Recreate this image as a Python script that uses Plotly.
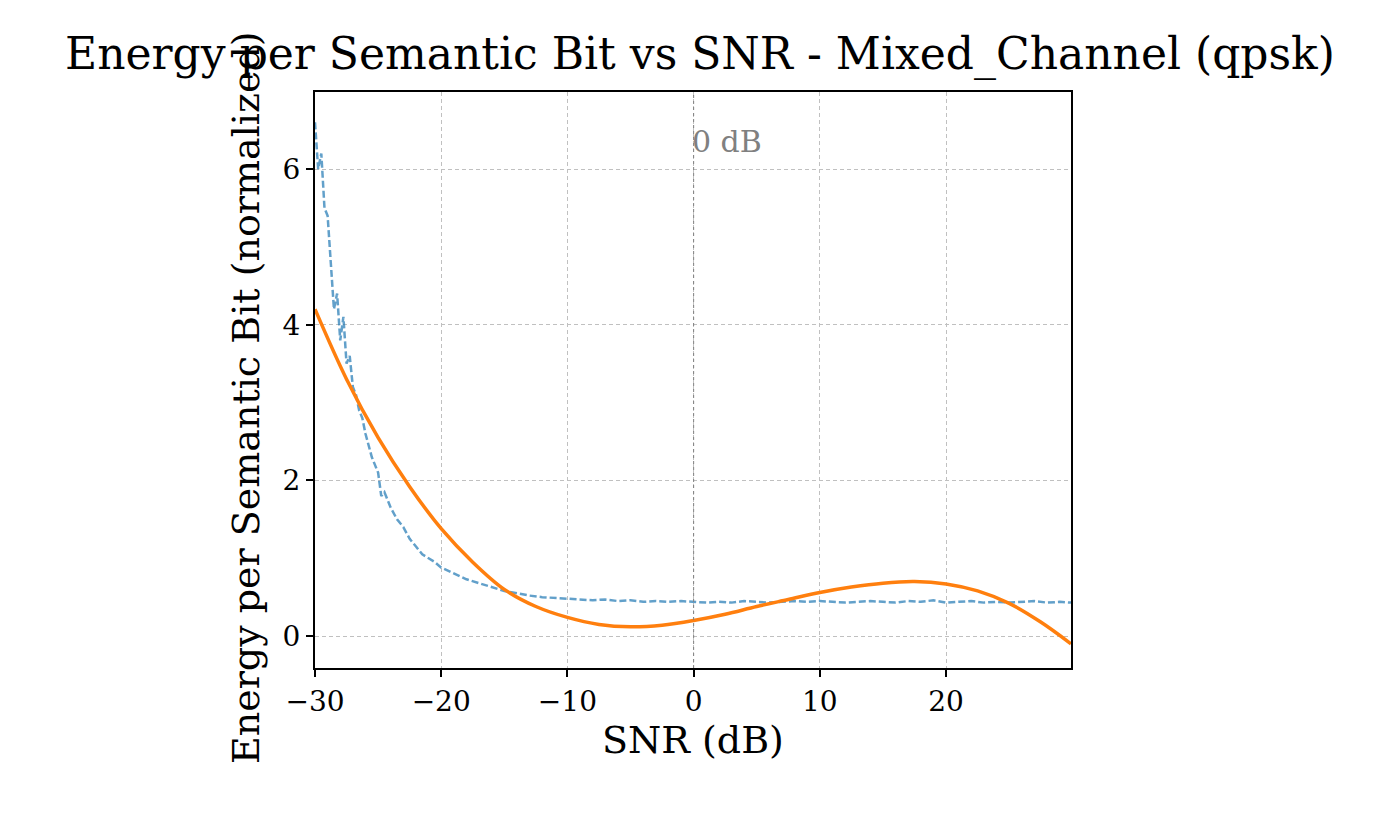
import plotly.graph_objects as go

blue_x = [-30,-29.75,-29.5,-29.25,-29,-28.75,-28.5,-28.25,-28,-27.75,-27.5,-27.25,-27,-26.75,-26.5,-26.25,-26,-25.5,-25,-24.75,-24.5,-24,-23.5,-23,-22.5,-22,-21.5,-21,-20.5,-20,-19,-18,-17,-16,-15,-14,-13,-12,-11,-10,-9,-8,-7,-6,-5,-4,-3,-2,-1,0,1,2,3,4,5,6,7,8,9,10,11,12,13,14,15,16,17,18,19,20,21,22,23,24,25,26,27,28,29,29.9]
blue_y = [6.6,6.0,6.2,5.5,5.4,4.8,4.2,4.4,3.8,4.1,3.5,3.6,3.2,3.1,2.9,2.8,2.6,2.3,2.1,1.8,1.85,1.65,1.5,1.4,1.25,1.15,1.05,1.0,0.95,0.88,0.8,0.73,0.68,0.63,0.58,0.55,0.52,0.5,0.49,0.48,0.47,0.46,0.47,0.45,0.46,0.44,0.45,0.44,0.45,0.44,0.43,0.44,0.43,0.45,0.44,0.43,0.44,0.45,0.44,0.45,0.44,0.43,0.44,0.45,0.44,0.43,0.45,0.44,0.46,0.43,0.44,0.45,0.43,0.44,0.43,0.44,0.45,0.43,0.44,0.43]
fit_x = [-30,-27.5,-25,-22.5,-20,-17.5,-15,-12.5,-10,-7.5,-5,-2.5,0,2.5,5,7.5,10,12.5,15,17.5,20,22.5,25,27.5,29.9]
fit_y = [4.2,3.3,2.55,1.92,1.38,0.95,0.6,0.38,0.24,0.15,0.12,0.14,0.2,0.28,0.38,0.47,0.56,0.63,0.68,0.7,0.67,0.58,0.42,0.18,-0.1]

serif = "DejaVu Serif"
fig = go.Figure()
fig.add_trace(go.Scatter(x=blue_x, y=blue_y, mode="lines",
    line=dict(color="rgba(31,119,180,0.7)", width=2.5, dash="7px,3px")))
fig.add_trace(go.Scatter(x=fit_x, y=fit_y, mode="lines", line_shape="spline",
    line=dict(color="#ff7f0e", width=3.5)))
fig.add_vline(x=0, line=dict(color="gray", width=1, dash="dot"))
fig.add_annotation(x=0, y=6.35, text="0 dB", showarrow=False, xanchor="left", xshift=-4,
    font=dict(family=serif, size=30, color="gray"))
fig.add_annotation(xref="paper", yref="paper", x=-0.122, y=0.47, text="Energy per Semantic Bit (normalized)",
    textangle=-90, showarrow=False, font=dict(family=serif, size=38, color="black"))
ax = dict(showline=True, linecolor="black", linewidth=2, mirror=True, ticks="outside",
    ticklen=7, tickwidth=1.5, tickcolor="black", showgrid=True, gridcolor="#c0c0c0",
    griddash="4px,3px", gridwidth=1, zeroline=False, tickfont=dict(family=serif, size=28, color="black"))
fig.update_xaxes(**ax, range=[-30, 29.9], tickvals=[-30,-20,-10,0,10,20],
    ticktext=["\u221230","\u221220","\u221210","0","10","20"],
    title=dict(text="SNR (dB)", font=dict(family=serif, size=38, color="black"), standoff=8))
fig.update_yaxes(**ax, range=[-0.41, 6.99], tickvals=[0,2,4,6])
fig.update_layout(width=1384, height=822, showlegend=False, plot_bgcolor="white", paper_bgcolor="white",
    margin=dict(l=307, r=321, t=84, b=162),
    title=dict(text="Energy per Semantic Bit vs SNR - Mixed_Channel (qpsk)", x=0.5, xanchor="center",
        y=0.945, yanchor="middle", font=dict(family=serif, size=44, color="black")))
fig.write_html("out.html")
